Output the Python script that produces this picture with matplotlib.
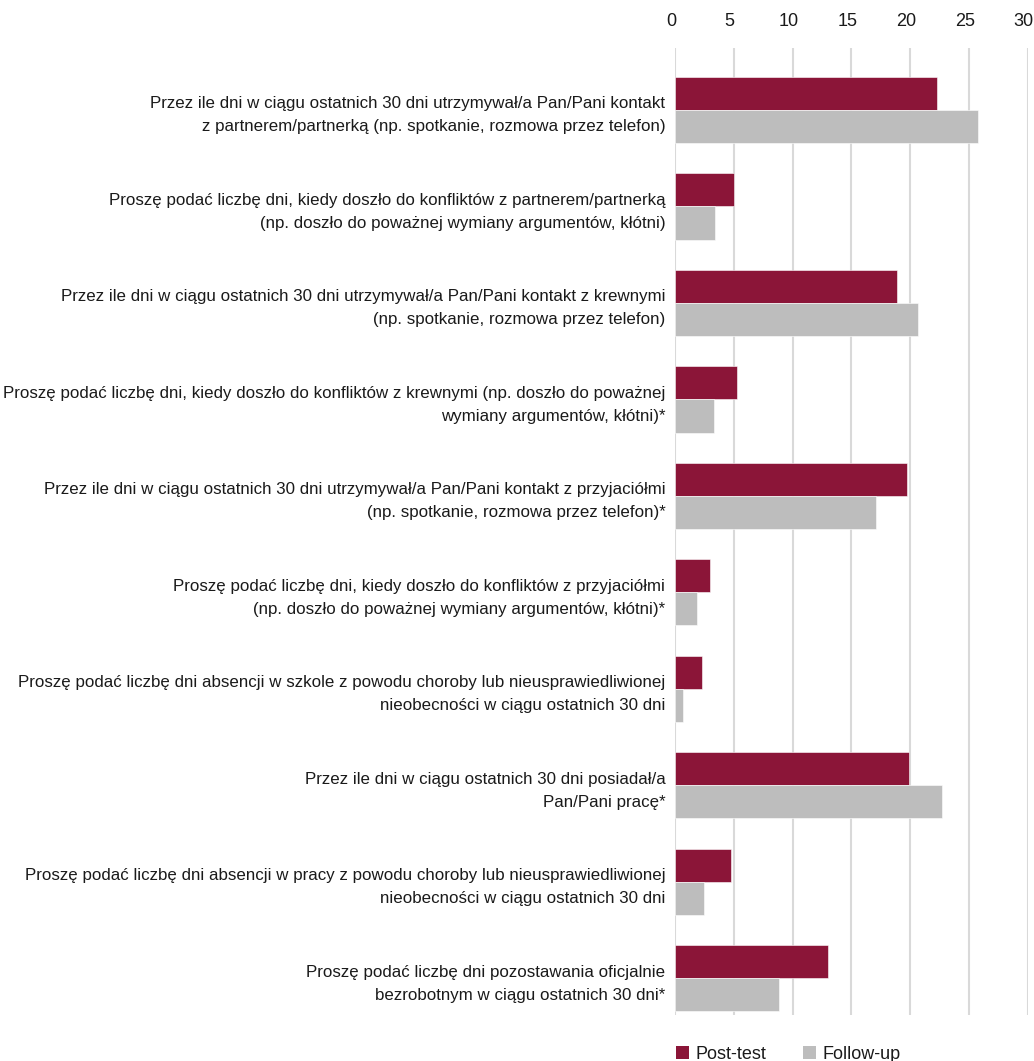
import matplotlib
matplotlib.use("Agg")
import matplotlib.pyplot as plt
import matplotlib.transforms as mtransforms
import numpy as np
from matplotlib.patches import Patch

plt.rcParams['font.family'] = ['Liberation Sans', 'DejaVu Sans']

categories = [
    "Przez ile dni w ciągu ostatnich 30 dni utrzymywał/a Pan/Pani kontakt\nz partnerem/partnerką (np. spotkanie, rozmowa przez telefon)",
    "Proszę podać liczbę dni, kiedy doszło do konfliktów z partnerem/partnerką\n(np. doszło do poważnej wymiany argumentów, kłótni)",
    "Przez ile dni w ciągu ostatnich 30 dni utrzymywał/a Pan/Pani kontakt z krewnymi\n(np. spotkanie, rozmowa przez telefon)",
    "Proszę podać liczbę dni, kiedy doszło do konfliktów z krewnymi (np. doszło do poważnej\nwymiany argumentów, kłótni)*",
    "Przez ile dni w ciągu ostatnich 30 dni utrzymywał/a Pan/Pani kontakt z przyjaciółmi\n(np. spotkanie, rozmowa przez telefon)*",
    "Proszę podać liczbę dni, kiedy doszło do konfliktów z przyjaciółmi\n(np. doszło do poważnej wymiany argumentów, kłótni)*",
    "Proszę podać liczbę dni absencji w szkole z powodu choroby lub nieusprawiedliwionej\nnieobecności w ciągu ostatnich 30 dni",
    "Przez ile dni w ciągu ostatnich 30 dni posiadał/a\nPan/Pani pracę*",
    "Proszę podać liczbę dni absencji w pracy z powodu choroby lub nieusprawiedliwionej\nnieobecności w ciągu ostatnich 30 dni",
    "Proszę podać liczbę dni pozostawania oficjalnie\nbezrobotnym w ciągu ostatnich 30 dni*",
]
post_test = [22.3, 5.05, 18.9, 5.3, 19.75, 3.0, 2.3, 19.9, 4.75, 13.0]
follow_up = [25.75, 3.4, 20.65, 3.3, 17.1, 1.85, 0.7, 22.75, 2.5, 8.85]
xticks = [0, 5, 10, 15, 20, 25, 30]
series_names = ["Post-test", "Follow-up"]

c_post = "#8B1538"
c_follow = "#BDBDBD"
txt = "#1a1a1a"

fig = plt.figure(figsize=(10.34, 10.61), dpi=100)
ax = fig.add_axes([0.6528, 0.0434, 0.9939 - 0.6528, 0.9548 - 0.0434])

y = np.arange(len(categories))
h = 0.343
ax.barh(y - h / 2, post_test, height=h, color=c_post, edgecolor="white", linewidth=0.4, zorder=3)
ax.barh(y + h / 2, follow_up, height=h, color=c_follow, edgecolor="white", linewidth=0.4, zorder=3)

ax.set_xlim(0, 30)
ax.set_ylim(9.38, -0.643)
ax.set_xticks(xticks)
ax.xaxis.tick_top()
ax.tick_params(axis='x', length=0, pad=13, labelsize=13, labelcolor=txt)
shift = mtransforms.ScaledTranslation(-4 / 100, 0, fig.dpi_scale_trans)
for lab in ax.get_xticklabels():
    lab.set_transform(lab.get_transform() + shift)
ax.set_yticks(y)
ax.set_yticklabels(categories, fontsize=12.2, color=txt, linespacing=1.65)
ax.tick_params(axis='y', length=0, pad=7)
for s in ax.spines.values():
    s.set_visible(False)
ax.grid(axis='x', color="#D9D9D9", linewidth=1.5, zorder=0)
ax.set_axisbelow(True)

handles = [Patch(facecolor=c_post, label=series_names[0]),
           Patch(facecolor=c_follow, label=series_names[1])]
fig.legend(handles=handles, loc="lower left", bbox_to_anchor=(0.638, -0.017), ncol=2,
           frameon=False, fontsize=13, handlelength=0.75, handleheight=0.75,
           handletextpad=0.35, columnspacing=2.0, labelcolor=txt)

fig.savefig("out.png", dpi=100, facecolor="white")
